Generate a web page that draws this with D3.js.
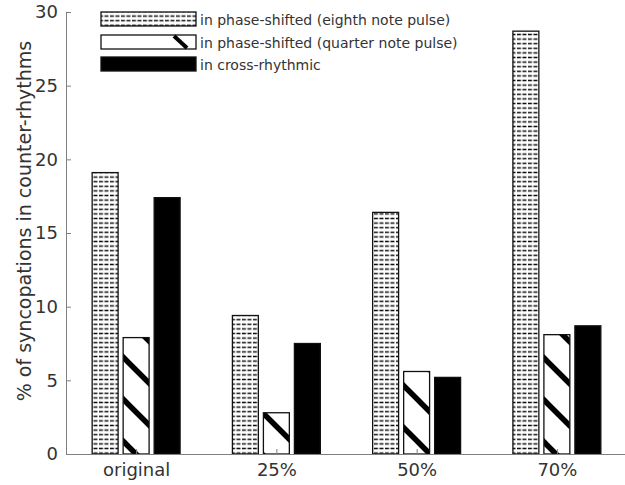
<!DOCTYPE html>
<html>
<head>
<meta charset="utf-8">
<script src="https://cdn.jsdelivr.net/npm/d3@7"></script>
<style>
  body { margin: 0; background: #fff; }
  text { font-family: "DejaVu Sans", Verdana, sans-serif; }
</style>
</head>
<body>
<div id="chart"></div>
<script>
const categories = ['original', '25%', '50%', '70%'];
const eighthPulse = [19.1, 9.4, 16.4, 28.7];
const quarterPulse = [7.9, 2.8, 5.6, 8.1];
const crossRhythmic = [17.4, 7.5, 5.2, 8.7];
const yTicks = [0, 5, 10, 15, 20, 25, 30];
const seriesNames = [
  'in phase-shifted (eighth note pulse)',
  'in phase-shifted (quarter note pulse)',
  'in cross-rhythmic'
];

const W = 625, H = 485;
const svg = d3.select('#chart').append('svg').attr('width', W).attr('height', H);

const x = d3.scaleLinear().domain([0.5, 4.5]).range([66, 627]);
const y = d3.scaleLinear().domain([0, 30]).range([454, 12]);

// fill patterns
const defs = svg.append('defs');
const dash = defs.append('pattern').attr('id', 'dash')
  .attr('patternUnits', 'userSpaceOnUse').attr('width', 5.5).attr('height', 4.6);
dash.append('rect').attr('width', 5.5).attr('height', 4.6).attr('fill', '#fff');
dash.append('line').attr('x1', 0).attr('x2', 4).attr('y1', 2.3).attr('y2', 2.3)
  .attr('stroke', '#111').attr('stroke-width', 1.5);

const diag = defs.append('pattern').attr('id', 'diag')
  .attr('patternUnits', 'userSpaceOnUse').attr('width', 42).attr('height', 42)
  .attr('y', 24);
diag.append('rect').attr('width', 42).attr('height', 42).attr('fill', '#fff');
diag.append('path').attr('d', 'M-6,-6L48,48M-6,36L6,48M36,-6L48,6')
  .attr('stroke', '#000').attr('stroke-width', 5.5);

const series = [
  { values: eighthPulse, fill: 'url(#dash)', off: -0.221 },
  { values: quarterPulse, fill: 'url(#diag)', off: 0 },
  { values: crossRhythmic, fill: '#000', off: 0.221 }
];
const bw = 0.185;

series.forEach(s => {
  svg.append('g').selectAll('rect').data(s.values).join('rect')
    .attr('x', (d, i) => x(i + 1 + s.off - bw / 2))
    .attr('width', x(1 + bw) - x(1))
    .attr('y', d => y(d))
    .attr('height', d => y(0) - y(d))
    .attr('fill', s.fill)
    .attr('stroke', '#111')
    .attr('stroke-width', 1.3);
});

// axes
const axisColor = '#808080', textColor = '#333';
const yAxis = svg.append('g').attr('transform', `translate(${x(0.5)},0)`)
  .call(d3.axisLeft(y).tickValues(yTicks).tickSizeInner(-5).tickSizeOuter(0).tickPadding(8));
const xAxis = svg.append('g').attr('transform', `translate(0,${y(0)})`)
  .call(d3.axisBottom(x).tickValues([1, 2, 3, 4]).tickFormat(i => categories[i - 1])
    .tickSizeInner(-5).tickSizeOuter(0).tickPadding(9));
[yAxis, xAxis].forEach(a => {
  a.select('.domain').attr('stroke', axisColor);
  a.selectAll('.tick line').attr('stroke', axisColor);
  a.selectAll('.tick text').attr('fill', textColor).style('font-size', '18px');
});

svg.append('text')
  .attr('transform', `translate(31,${(y(0) + y(30)) / 2 - 12}) rotate(-90)`)
  .attr('text-anchor', 'middle')
  .attr('fill', textColor)
  .style('font-size', '19px')
  .text('% of syncopations in counter-rhythms');

// legend
const lx = 101, lw = 95, lh = 14;
const rows = [12, 35, 57];
const lg = svg.append('g');
const fills = ['url(#dash)', '#fff', '#000'];
rows.forEach((ry, i) => {
  lg.append('rect').attr('x', lx).attr('y', ry).attr('width', lw).attr('height', lh)
    .attr('fill', fills[i]).attr('stroke', '#111').attr('stroke-width', 1.3);
  if (i === 1) {
    lg.append('line').attr('x1', lx + lw - 22).attr('y1', ry + 1)
      .attr('x2', lx + lw - 9).attr('y2', ry + lh - 1)
      .attr('stroke', '#000').attr('stroke-width', 4);
  }
  lg.append('text').attr('x', lx + lw + 4).attr('y', ry + lh / 2 + 1).attr('dy', '0.35em')
    .attr('fill', textColor).style('font-size', '14px').text(seriesNames[i]);
});
</script>
</body>
</html>
